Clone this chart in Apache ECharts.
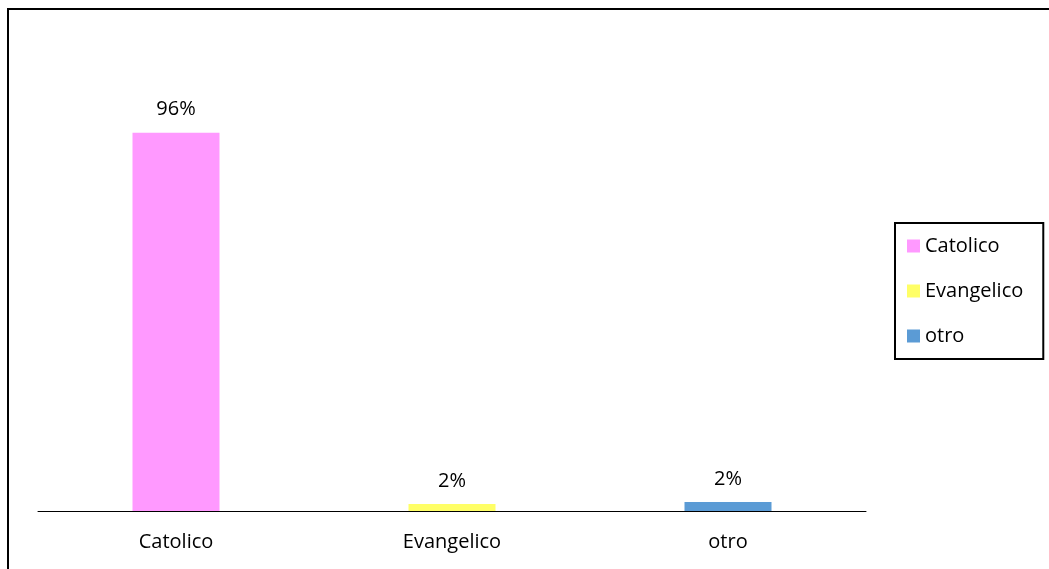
<!DOCTYPE html>
<html>
<head>
<meta charset="utf-8">
<script src="https://cdn.jsdelivr.net/npm/echarts@6/dist/echarts.min.js"></script>
<style>
    html, body { margin: 0; padding: 0; background: #fff; }
    #chart { width: 1049px; height: 569px; }
</style>
</head>
<body>
<div id="chart"></div>
<script>
const categories = ["Catolico", "Evangelico", "otro"];
const values = [96, 1.8, 2.3]; // percent
const colors = ["#FF99FF", "#FFFF66", "#5B9BD5"];

const chart = echarts.init(document.getElementById("chart"));
const font = "'Open Sans', sans-serif";

// one series per category so each gets its own legend entry
const series = categories.map((name, i) => ({
    name: name,
    type: "bar",
    stack: "total",
    barWidth: 87,
    itemStyle: { color: colors[i] },
    data: categories.map((c, j) => (j === i ? values[i] : "-")),
    label: {
        show: true,
        position: "top",
        distance: 13,
        color: "#000",
        fontFamily: font,
        fontSize: 20,
        formatter: (p) => Math.round(p.value) + "%",
    },
}));

const options = {
    animation: false,
    backgroundColor: "#fff",
    grid: { left: 38, right: 183, top: 117, bottom: 58 },
    graphic: [
        {
            type: "rect",
            shape: { x: 8, y: 9, width: 1200, height: 700 },
            style: { fill: "none", stroke: "#000", lineWidth: 2 },
            silent: true,
        },
    ],
    legend: {
        data: categories,
        orient: "vertical",
        left: 895,
        top: 223,
        borderColor: "#000",
        borderWidth: 2,
        padding: [13, 20, 13, 12],
        itemWidth: 13,
        itemHeight: 13,
        itemGap: 25,
        icon: "rect",
        textStyle: { fontFamily: font, fontSize: 20, color: "#000" },
    },
    xAxis: {
        type: "category",
        data: categories,
        axisTick: { show: false },
        axisLine: { lineStyle: { color: "#000", width: 1 } },
        axisLabel: { color: "#000", fontFamily: font, fontSize: 20, margin: 21 },
    },
    yAxis: {
        type: "value",
        min: 0,
        max: 100,
        show: false,
        splitLine: { show: false },
    },
    series: series,
};

chart.setOption(options);
</script>
</body>
</html>
